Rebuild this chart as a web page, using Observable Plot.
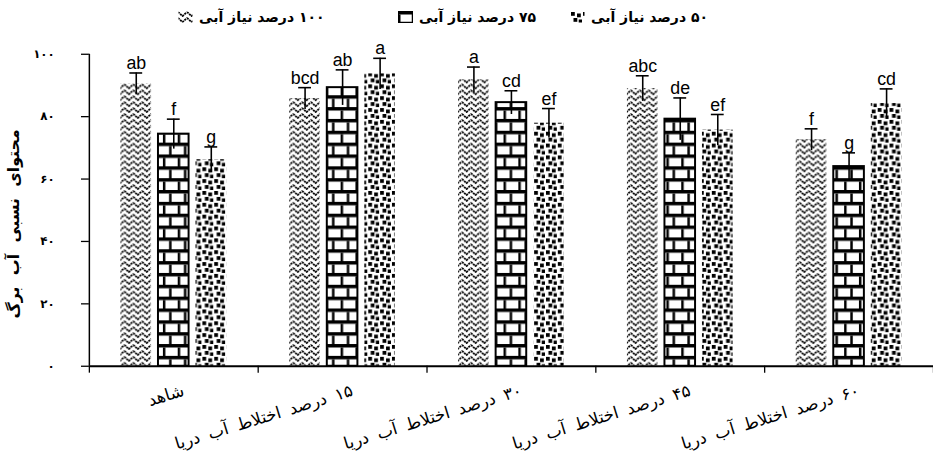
<!DOCTYPE html>
<html><head><meta charset="utf-8">
<script src="https://cdn.jsdelivr.net/npm/d3@7"></script>
<script src="https://cdn.jsdelivr.net/npm/@observablehq/plot@0.6"></script>
<style>
html,body{margin:0;padding:0;background:#fff;overflow:hidden;width:933px;height:466px}
#legend{position:relative;height:36px;font-family:"DejaVu Sans";font-weight:bold;font-size:14px;color:#000}
.item{position:absolute;top:9px;display:flex;align-items:center;gap:6px;white-space:nowrap}
.item span{direction:rtl;unicode-bidi:embed}
#chart svg{display:block}
g[aria-description="xlabels"] text{word-spacing:4px}
g[aria-description="ytitle"] text{word-spacing:6px}
</style></head><body>
<svg width="0" height="0" style="position:absolute">
<defs>
<pattern id="p100" patternUnits="userSpaceOnUse" width="9" height="6">
 <rect width="9" height="6" fill="#fff"/>
 <path d="M0,0.8 L4.5,5.2 L9,0.8" fill="none" stroke="#000" stroke-width="1.8" stroke-dasharray="2.2 0.8"/>
</pattern>
<pattern id="p75" patternUnits="userSpaceOnUse" width="15" height="24">
 <rect width="15" height="24" fill="#fff"/>
 <rect y="0" width="15" height="3.5" fill="#000"/>
 <rect y="12" width="15" height="3.5" fill="#000"/>
 <rect x="0" y="3.5" width="2.5" height="8.5" fill="#000"/>
 <rect x="6.25" y="15.5" width="2.5" height="8.5" fill="#000"/>
</pattern>
<pattern id="p50" patternUnits="userSpaceOnUse" width="12" height="12">
 <rect width="12" height="12" fill="#fff"/>
 <rect x="1" y="1" width="3.8" height="3.8" fill="#000"/>
 <rect x="7" y="2.5" width="3.8" height="3.8" fill="#000"/>
 <rect x="3.5" y="7" width="3.8" height="3.8" fill="#000"/>
 <rect x="8.7" y="8.5" width="3.3" height="3.5" fill="#000"/>
</pattern>
</defs></svg>
<div id="legend"></div>
<div id="chart"></div>
<script>
// ---- data ----
const categories = ["شاهد", "۱۵ درصد اختلاط آب دریا", "۳۰ درصد اختلاط آب دریا", "۴۵ درصد اختلاط آب دریا", "۶۰ درصد اختلاط آب دریا"];
const seriesNames = ["۱۰۰ درصد نیاز آبی", "۷۵ درصد نیاز آبی", "۵۰ درصد نیاز آبی"];
const values100 = [90.5, 85.8, 91.8, 89.0, 72.6];
const values75  = [74.4, 89.3, 84.5, 79.2, 64.0];
const values50  = [66.2, 93.7, 77.9, 75.7, 84.2];
const err100 = [3.5, 3.5, 4.1, 4.1, 3.5];
const err75  = [4.8, 5.7, 3.8, 6.8, 4.4];
const err50  = [4.1, 5.0, 4.7, 5.0, 4.7];
const letters100 = ["ab", "bcd", "a", "abc", "f"];
const letters75  = ["f", "ab", "cd", "de", "g"];
const letters50  = ["g", "a", "ef", "ef", "cd"];
const yTicks = [0, 20, 40, 60, 80, 100];
const yTitle = "محتوای نسبی آب برگ";

// ---- styles ----
const patterns = ["url(#p100)", "url(#p75)", "url(#p50)"];
const strokes = ["none", "#000", "none"];

const values = [values100, values75, values50];
const errs = [err100, err75, err50];
const letters = [letters100, letters75, letters50];
const rows = categories.flatMap((c, i) => seriesNames.map((s, k) => ({
  i, k, cat: c, series: s, value: values[k][i], err: errs[k][i], letter: letters[k][i]
})));

// layout within a category slot (fractions of slot width)
const groupInset = 32 / 171, barStep = 38 / 171, barWidth = 31 / 171, capHalf = 6.5 / 171;
const left = d => d.i + groupInset + d.k * barStep;
const mid = d => left(d) + barWidth / 2;
const fa = n => String(n).replace(/\d/g, c => "۰۱۲۳۴۵۶۷۸۹"[c]);
const RLM = "\u200F";

// legend
const legendPos = [178, 398, 570];
const leg = d3.select("#legend");
seriesNames.forEach((s, k) => {
  const it = leg.append("div").attr("class", "item").style("left", legendPos[k] + "px");
  const sw = it.append("svg").attr("width", 15).attr("height", 12);
  sw.append("rect").attr("x", 0.5).attr("y", 0.5).attr("width", 14).attr("height", 11)
    .attr("fill", patterns[k]).attr("stroke", k === 1 ? "#000" : "none").attr("stroke-width", 1.5);
  it.append("span").text(s);
});

const chart = Plot.plot({
  width: 945, height: 430,
  marginLeft: 90, marginRight: 0, marginTop: 18, marginBottom: 96,
  x: {domain: [0, categories.length], axis: null},
  y: {domain: [0, 100], axis: null},
  color: {type: "identity"},
  style: {background: "transparent", overflow: "visible"},
  marks: [
    Plot.rectY(rows, {x1: left, x2: d => left(d) + barWidth, y1: 0, y2: "value",
      fill: d => patterns[d.k], stroke: d => strokes[d.k], strokeWidth: 2}),
    Plot.ruleX(rows, {x: mid, y1: d => d.value - d.err, y2: d => d.value + d.err, stroke: "#000", strokeWidth: 1.6}),
    Plot.ruleY(rows, {y: d => d.value + d.err, x1: d => mid(d) - capHalf, x2: d => mid(d) + capHalf, stroke: "#000", strokeWidth: 1.6}),
    Plot.text(rows, {x: mid, y: d => d.value + d.err, text: "letter", lineAnchor: "bottom", dy: -4,
      fontSize: 18, fontFamily: "Liberation Sans", fill: "#000"}),
    Plot.ruleY([0], {stroke: "#000", strokeWidth: 2}),
    Plot.ruleX([0], {y1: 0, y2: 100, stroke: "#000", strokeWidth: 1.5}),
    Plot.axisX({ticks: d3.range(0, categories.length + 1), tickSize: 7, tickFormat: () => "", label: null, strokeWidth: 1.3}),
    Plot.axisY({ticks: yTicks, tickSize: 8, tickPadding: 27, tickFormat: fa, label: null,
      fontSize: 12, fontWeight: "bold", fontFamily: "DejaVu Sans", strokeWidth: 1.3}),
    Plot.text([yTitle], {frameAnchor: "left", dx: -76, dy: -82, rotate: -90, text: d => RLM + d,
      textAnchor: "end", ariaDescription: "ytitle",
      fontSize: 16, fontWeight: "bold", fontFamily: "DejaVu Sans", fill: "#000"}),
    Plot.text(categories, {x: (d, i) => i + 0.5, frameAnchor: "bottom", text: d => RLM + d,
      textAnchor: "end", lineAnchor: "top", rotate: -17, dx: 8, dy: 18, ariaDescription: "xlabels",
      fontSize: 17, fontFamily: "DejaVu Sans", fill: "#000"})
  ]
});
document.getElementById("chart").appendChild(chart);
</script>
</body></html>
